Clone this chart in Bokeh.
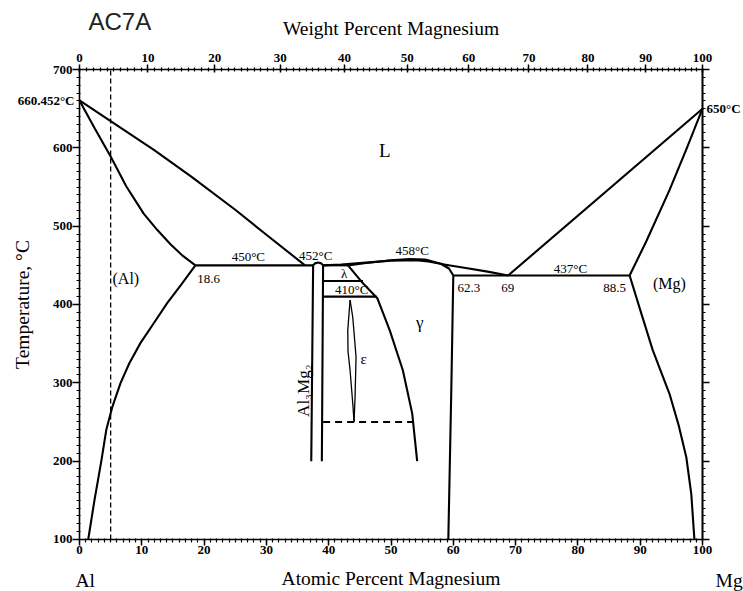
import math
from bokeh.plotting import figure
from bokeh.models import LinearAxis, FixedTicker, Label, Range1d
from bokeh.embed import file_html
from bokeh.resources import INLINE

# ---------------- data (atomic % Mg, temperature °C) ----------------
temp_ticks = [100, 200, 300, 400, 500, 600, 700]
temp_minor = list(range(100, 701, 10))
at_ticks = [0, 10, 20, 30, 40, 50, 60, 70, 80, 90, 100]
at_minor = list(range(0, 101, 1))
wt_ticks = [0, 10, 20, 30, 40, 50, 60, 70, 80, 90, 100]
wt_minor = list(range(0, 101, 1))

liq_al_x = [0, 5, 12, 18, 25, 30, 36.2]
liq_al_t = [660.452, 634, 597, 563, 521, 489, 450]

sol_al_x = [0, 2.5, 5, 7.5, 10.3, 12.5, 14.6, 16.6, 18.6]
sol_al_t = [660.452, 624, 589, 551, 516, 495, 477, 462, 450]

solv_al_x = [18.6, 16.3, 14.1, 12.0, 9.8, 8.0, 6.6, 5.3, 4.3, 3.5, 2.4, 1.4]
solv_al_t = [450, 425, 402, 377, 351, 325, 300, 270, 240, 200, 150, 100]

eut450_x = [18.6, 37.5]
eut450_t = [450, 450]

beta_x = [37.2, 37.5, 37.8, 38.3, 38.8, 39.1, 38.9]
beta_t = [200, 450, 452.5, 453.5, 452.5, 450, 200]

lam_top_x = [39.1, 43.1]
lam_top_t = [450, 450]
lam_mid_x = [39.1, 45.5]
lam_mid_t = [430, 430]
lam_low_x = [39.1, 47.7]
lam_low_t = [410, 410]

gam_left_x = [43.1, 45.5, 47.8, 49.8, 51.9, 53.4, 54.2]
gam_left_t = [450, 427, 408, 367, 316, 261, 200]

gam_sol_x = [43.1, 46, 50, 53, 55.5, 58, 59.3, 60.0]
gam_sol_t = [450, 453, 456.5, 458, 457.5, 452, 446, 437]

liq_mid_x = [39.1, 42, 46, 50, 54, 56, 59, 62, 65.5, 68.8]
liq_mid_t = [450, 451, 453.5, 456, 456.5, 455, 450.5, 446.5, 442, 437]

gam_right_x = [60.0, 59.7, 59.2]
gam_right_t = [437, 300, 100]

eut437_x = [60.0, 88.3]
eut437_t = [437, 437]

liq_mg_x = [68.8, 100]
liq_mg_t = [437, 650]

sol_mg_x = [88.3, 91, 94.7, 97.5, 100]
sol_mg_t = [437, 481, 546, 600, 650]

solv_mg_x = [88.3, 90.2, 92.0, 93.3, 94.7, 96.2, 97.4, 98.2, 98.7]
solv_mg_t = [437, 388, 342, 315, 286, 245, 205, 158, 100]

eps_l_x = [43.43, 43.06, 43.1, 43.43, 43.86, 44.07]
eps_l_t = [405.7, 367, 340, 316, 274, 250]
eps_r_x = [43.43, 43.86, 44.39, 44.23, 44.07]
eps_r_t = [405.7, 384, 333, 282, 250]

dash250_x = [39.1, 53.6]
dash250_t = [250, 250]

alloy_x = [5.0, 5.0]
alloy_t = [100, 700]

# ---------------- figure: frame covers the whole canvas, axes fixed inside ----------------
SERIF = "Liberation Serif"
W, H = 743, 591
p = figure(width=W, height=H, output_backend="svg", toolbar_location=None,
           title_location=None,
           x_range=Range1d(-12.68, 106.58), y_range=Range1d(33.6, 788.1),
           min_border=0)
p.outline_line_color = None
p.grid.visible = False
p.background_fill_color = "white"
p.border_fill_color = "white"


def style_axis(ax):
    ax.axis_line_width = 1.6
    ax.axis_line_color = "black"
    ax.major_tick_line_color = "black"
    ax.minor_tick_line_color = "black"
    ax.major_tick_line_width = 1.5
    ax.minor_tick_line_width = 1.2
    ax.major_label_text_font = SERIF
    ax.major_label_text_font_style = "bold"
    ax.major_label_text_font_size = "13px"
    ax.major_label_text_color = "black"
    ax.axis_label_text_font = SERIF
    ax.axis_label_text_font_style = "normal"
    ax.axis_label_text_font_size = "19.5px"
    ax.axis_label_text_color = "black"


# bottom axis (atomic percent)
xb = p.xaxis[0]
xb.ticker = FixedTicker(ticks=at_ticks, minor_ticks=at_minor)
style_axis(xb)
xb.fixed_location = 100
xb.bounds = (0, 100)
xb.major_tick_out = 6
xb.major_tick_in = 0
xb.minor_tick_out = 3
xb.minor_tick_in = 1
xb.major_label_standoff = 1
xb.axis_label = "Atomic Percent Magnesium"
xb.axis_label_standoff = 10

# left axis (temperature)
yl = p.yaxis[0]
yl.ticker = FixedTicker(ticks=temp_ticks, minor_ticks=temp_minor)
style_axis(yl)
yl.fixed_location = 0
yl.bounds = (100, 700)
yl.major_tick_out = 7
yl.major_tick_in = 0
yl.minor_tick_out = 3
yl.minor_tick_in = 1
yl.major_label_standoff = 0
yl.axis_label = "Temperature, °C"
yl.axis_label_standoff = 17


# top axis (weight percent)
def wt_to_at(w):
    a = w / 24.305
    b = (100 - w) / 26.982
    return round(100 * a / (a + b), 4)


top_major = [wt_to_at(w) for w in wt_ticks]
top_minor = [wt_to_at(w) for w in wt_minor]
xt = LinearAxis(ticker=FixedTicker(ticks=top_major, minor_ticks=top_minor))
style_axis(xt)
xt.fixed_location = 700
xt.bounds = (0, 100)
xt.major_label_overrides = {pos: str(w) for pos, w in zip(top_major, wt_ticks)}
xt.major_tick_out = 5
xt.major_tick_in = 3
xt.minor_tick_out = 2
xt.minor_tick_in = 2
xt.major_label_standoff = 3
xt.axis_label = "Weight Percent Magnesium"
xt.axis_label_standoff = 12
p.add_layout(xt, "above")

# right axis (ticks only): long ticks at the hundreds, short ones every 10 degrees
yr1 = LinearAxis(ticker=FixedTicker(ticks=[], minor_ticks=temp_minor))
style_axis(yr1)
yr1.fixed_location = 100
yr1.bounds = (100, 700)
yr1.minor_tick_out = 3
yr1.minor_tick_in = 0
p.add_layout(yr1, "right")

yr2 = LinearAxis(ticker=FixedTicker(ticks=[], minor_ticks=temp_ticks))
style_axis(yr2)
yr2.fixed_location = 100
yr2.bounds = (100, 700)
yr2.minor_tick_out = 7
yr2.minor_tick_in = 0
yr2.minor_tick_line_width = 1.5
p.add_layout(yr2, "right")

# ---------------- phase boundaries ----------------
LW = 2.1
for xs, ts in [(liq_al_x, liq_al_t), (sol_al_x, sol_al_t), (solv_al_x, solv_al_t),
               (eut450_x, eut450_t), (beta_x, beta_t), (lam_top_x, lam_top_t),
               (lam_mid_x, lam_mid_t), (lam_low_x, lam_low_t), (gam_left_x, gam_left_t),
               (gam_sol_x, gam_sol_t), (liq_mid_x, liq_mid_t), (gam_right_x, gam_right_t),
               (eut437_x, eut437_t), (liq_mg_x, liq_mg_t), (sol_mg_x, sol_mg_t),
               (solv_mg_x, solv_mg_t)]:
    p.line(xs, ts, line_color="black", line_width=LW, line_join="round")

p.line(eps_l_x, eps_l_t, line_color="black", line_width=1.3)
p.line(eps_r_x, eps_r_t, line_color="black", line_width=1.3)
p.line(dash250_x, dash250_t, line_color="black", line_width=1.8, line_dash="7 5")
p.line(alloy_x, alloy_t, line_color="black", line_width=1.3, line_dash="5 3")


# ---------------- texts ----------------
def lab(text, x, y, size="13px", align="center", style="normal", angle=0.0,
        font=SERIF, xo=0, yo=0, color="black", baseline="middle"):
    p.add_layout(Label(x=x, y=y, text=text, text_font=font, text_font_size=size,
                       text_align=align, text_baseline=baseline, text_font_style=style,
                       angle=angle, x_offset=xo, y_offset=yo, text_color=color))


lab("660.452°C", 0, 660.452, style="bold", align="right", xo=-5)
lab("650°C", 100, 650, style="bold", align="left", xo=4)
lab("L", 49.0, 597, size="19px")
lab("(Al)", 5.3, 433, size="16px", align="left")
lab("450°C", 27.1, 461)
lab("18.6", 18.9, 432, align="left")
lab("452°C", 37.9, 462)
lab("458°C", 53.4, 469)
lab("λ", 42.5, 439, size="13px")
lab("410°C", 43.7, 419)
lab("ε", 45.6, 331, size="15px")
lab("γ", 54.6, 377, size="17px")
lab("Al₃Mg₂", 35.9, 290, size="17px", angle=math.pi / 2)
lab("62.3", 62.5, 421.7)
lab("69", 68.75, 421.7)
lab("437°C", 78.8, 446)
lab("88.5", 85.9, 421.7)
lab("(Mg)", 94.7, 427, size="16px")
lab("Al", -0.64, 47.7, size="19.5px", align="left")
lab("Mg", 102.1, 47.7, size="19.5px", align="left")
lab("AC7A", 1.45, 761.3, size="24px", align="left", font="Liberation Sans",
    color="#222222")

open("out.html", "w").write(file_html(p, INLINE))
